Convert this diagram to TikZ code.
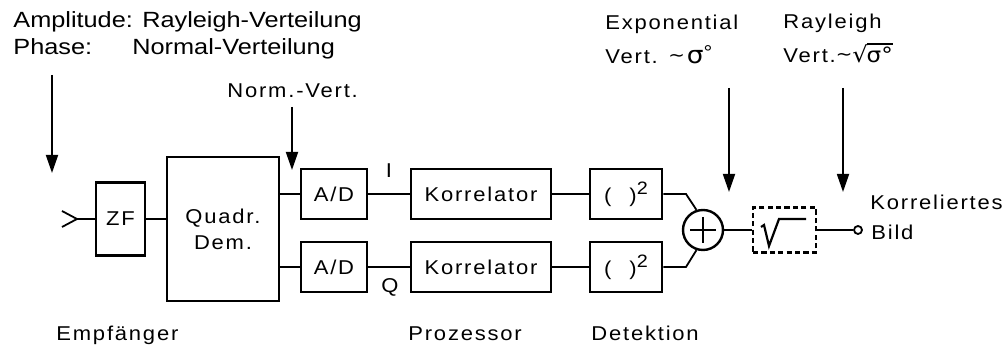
\documentclass[tikz,border=0pt]{standalone}
\usepackage{fontspec}
\setmainfont{Liberation Sans}[FakeStretch=1.15]
\newfontfamily\wide{Liberation Sans}[FakeStretch=1.1,LetterSpace=9]
\newfontfamily\symf{DejaVu Sans}[FakeStretch=1.1]
\usetikzlibrary{arrows.meta,calc}
% text root sign with a bar over its argument
\newcommand{\textroot}[1]{{\symf\fontsize{11}{11}\selectfont √}\kern-0.6pt%
  \vbox{\hrule height 0.6pt\kern 1.2pt\hbox{#1}}}

\begin{document}
\begin{tikzpicture}[x=0.5pt,y=-0.5pt,
  box/.style={draw,line width=1.35pt,inner sep=0pt,
    font=\wide\fontsize{10}{12}\selectfont},
  conn/.style={line width=0.9pt},
  pointer/.style={line width=0.9pt,-{Triangle[width=6pt,length=9pt]}},
  lbl/.style={inner sep=0pt,anchor=base west,font=\wide\fontsize{10}{12}\selectfont},
  twoline/.style={inner sep=0pt,anchor=base west,font=\wide\fontsize{10}{16.8}\selectfont},
  plain/.style={inner sep=0pt,anchor=base west,font=\fontsize{11}{13}\selectfont},
]
\useasboundingbox (0,0) rectangle (1008,346);

% receiver chain
\node[box,minimum width=24.5pt,minimum height=36.5pt] (zf) at (120.5,219) {ZF};
\node[box,minimum width=56pt,minimum height=72pt,align=center] (quad) at (223,229)
  {Quadr.\\[1pt]Dem.};
\node[box,minimum width=33pt,minimum height=25pt] (ad1) at (334,194) {A/D};
\node[box,minimum width=33pt,minimum height=25pt] (ad2) at (334,267) {A/D};
\node[box,minimum width=70pt,minimum height=25pt] (kor1) at (481,194) {Korrelator};
\node[box,minimum width=70pt,minimum height=25pt] (kor2) at (481,267) {Korrelator};
\node[box,minimum width=36pt,minimum height=25pt] (sq1) at (626,194)
  {(\hspace{9pt})\raisebox{4pt}{\fontsize{9}{9}\selectfont 2}};
\node[box,minimum width=36pt,minimum height=25pt] (sq2) at (626,267)
  {(\hspace{9pt})\raisebox{4pt}{\fontsize{9}{9}\selectfont 2}};
\node[draw,circle,line width=1.2pt,minimum size=20pt,inner sep=0pt] (sum) at (703,230) {};
\node[draw,dashed,dash pattern=on 2.6pt off 1.6pt,line width=1.2pt,
  minimum width=31.5pt,minimum height=22.5pt,inner sep=0pt] (root) at (784.5,230) {};
\node[draw,circle,line width=0.9pt,fill=white,minimum size=4pt,inner sep=0pt] (out) at (858,230) {};

% adder cross and root sign
\draw[line width=1.2pt] ($(sum.center)+(-13,0)$) -- ($(sum.center)+(13,0)$);
\draw[line width=1.2pt] ($(sum.center)+(0,-13)$) -- ($(sum.center)+(0,13)$);
\draw[line width=1.1pt,line join=miter] (761,227) -- (764,225) -- (769,246) -- (779,219) -- (806,219);

% antenna
\coordinate (a1) at (62,211);
\coordinate (a2) at (77,219);
\coordinate (a3) at (62,227);
\draw[conn] (a1) -- (a2) -- (a3);
\draw[conn] (a2) -- (zf.west);

% signal paths
\draw[conn] (zf.east) -- (zf.east -| quad.west);
\draw[conn] (quad.east |- ad1) -- (ad1.west);
\draw[conn] (quad.east |- ad2) -- (ad2.west);
\draw[conn] (ad1.east) -- (kor1.west);
\draw[conn] (ad2.east) -- (kor2.west);
\draw[conn] (kor1.east) -- (sq1.west);
\draw[conn] (kor2.east) -- (sq2.west);
\draw[conn] (sq1.east) -- (686,194) -- (sum.108);
\draw[conn] (sq2.east) -- (686,267) -- (sum.252);
\draw[conn] (sum.east) -- (root.west);
\draw[conn] (root.east) -- (out.west);

% statistics arrows
\coordinate (p1s) at (52,75);   \coordinate (p1e) at (52,173);
\coordinate (p2s) at (292,107); \coordinate (p2e) at (292,170);
\coordinate (p3s) at (729,88);  \coordinate (p3e) at (729,192);
\coordinate (p4s) at (843,88);  \coordinate (p4e) at (843,192);
\draw[pointer] (p1s) -- (p1e);
\draw[pointer] (p2s) -- (p2e);
\draw[pointer] (p3s) -- (p3e);
\draw[pointer] (p4s) -- (p4e);

% labels
\node[plain] (amp) at (13,28) {Amplitude: Rayleigh-Verteilung};
\node[plain] (pha) at (13,55) {Phase:};
\node[plain] (nv) at (132,55) {Normal-Verteilung};
\node[lbl] (norm) at (227,98) {Norm.-Vert.};
\node[lbl,anchor=base] (ich) at (389,178) {I};
\node[lbl,anchor=base] (qch) at (390,293) {Q};
\node[twoline] (expo) at (605,30) {\begin{tabular}[t]{@{}l@{}}Exponential\\
  Vert. \raisebox{1pt}{\symf\fontsize{9}{9}\selectfont\char"223C}\kern1pt{\symf\fontsize{12}{12}\selectfont σ}\raisebox{2pt}{°}\end{tabular}};
\node[twoline] (rayl) at (783,29) {\begin{tabular}[t]{@{}l@{}}Rayleigh\\
  Vert.\raisebox{1pt}{\symf\fontsize{9}{9}\selectfont\char"223C}\textroot{\symf\fontsize{10.5}{10.5}\selectfont σ°}\end{tabular}};
\node[lbl] (korr) at (870,210) {Korreliertes};
\node[lbl] (bild) at (871,240) {Bild};
\node[lbl] (emp) at (56,341) {Empfänger};
\node[lbl] (proz) at (408,341) {Prozessor};
\node[lbl] (det) at (591,341) {Detektion};
\end{tikzpicture}
\end{document}
